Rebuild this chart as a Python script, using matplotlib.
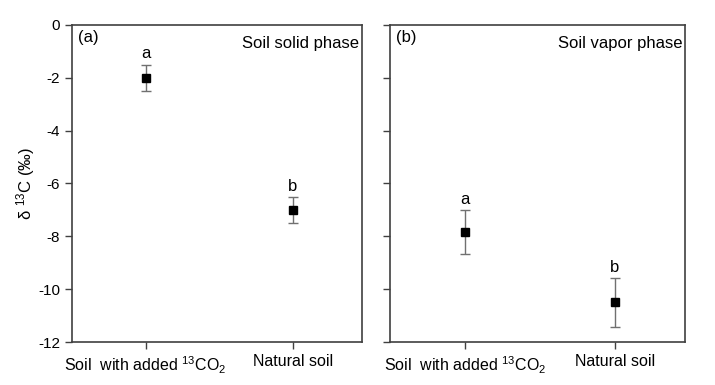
import numpy as np
import matplotlib
matplotlib.use("Agg")
import matplotlib.pyplot as plt

plt.rcParams['font.family'] = ['Liberation Sans', 'DejaVu Sans']
plt.rcParams['mathtext.fontset'] = 'custom'
plt.rcParams['mathtext.rm'] = 'Liberation Sans'
plt.rcParams['mathtext.default'] = 'regular'

categories = ['Soil  with added $^{13}$CO$_2$', 'Natural soil']
solid_mean = [-2.0, -7.0]
solid_err = [0.5, 0.48]
vapor_mean = [-7.85, -10.5]
vapor_err = [0.83, 0.92]
letters = ['a', 'b']
panels = [('(a)', 'Soil solid phase', solid_mean, solid_err),
          ('(b)', 'Soil vapor phase', vapor_mean, vapor_err)]
yticks = [0, -2, -4, -6, -8, -10, -12]

fig = plt.figure(figsize=(7.15, 3.85), dpi=100)
boxes = [[72/715, 43/385, 290/715, 317/385],
         [390/715, 43/385, 295/715, 317/385]]
spine_col = '#404040'

for i, (tag, title, mean, err) in enumerate(panels):
    ax = fig.add_axes(boxes[i])
    x = np.arange(1, len(categories) + 1)
    ax.errorbar(x, mean, yerr=err, fmt='s', color='black', ms=6,
                ecolor='#707070', elinewidth=1, capsize=3.5, capthick=1)
    for xi, m, e, l in zip(x, mean, err, letters):
        ax.annotate(l, (xi, m + e), xytext=(0, 2.5), textcoords='offset points',
                    ha='center', va='bottom', fontsize=12)
    ax.set_xlim(0.5, 2.47)
    ax.set_ylim(-12, 0)
    ax.set_xticks(x)
    ax.set_xticklabels(categories, fontsize=11.5)
    ax.set_yticks(yticks)
    if i == 0:
        ax.set_yticklabels([str(t) for t in yticks], fontsize=11)
        ax.set_ylabel(r'$\delta$ $^{13}$C (‰)', fontsize=12)
        ax.yaxis.set_label_coords(-0.12, 0.5)
    else:
        ax.set_yticklabels([])
    ax.tick_params(direction='out', length=5, color=spine_col, width=1)
    ax.tick_params(axis='x', pad=4)
    for s in ax.spines.values():
        s.set_color(spine_col)
        s.set_linewidth(1.2)
    ax.text(0.02, 0.985, tag, transform=ax.transAxes, ha='left', va='top', fontsize=12)
    ax.text(0.99, 0.965, title, transform=ax.transAxes, ha='right', va='top', fontsize=12)

fig.savefig('out.png', dpi=100)
